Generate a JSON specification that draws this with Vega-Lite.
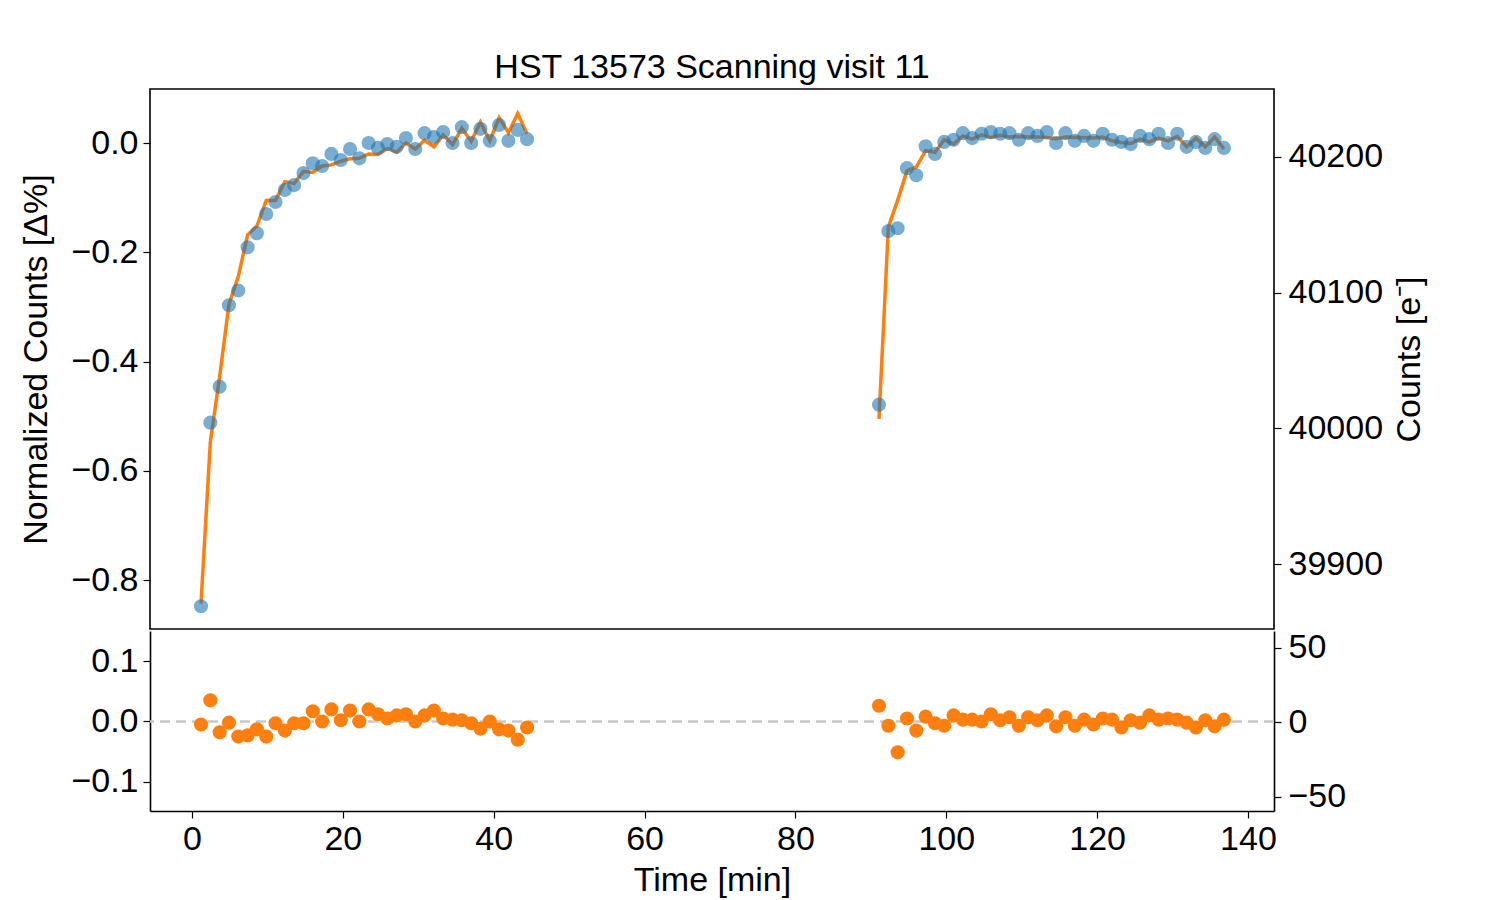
{
  "$schema": "https://vega.github.io/schema/vega-lite/v6.json",
  "background": "white",
  "padding": {"left": 19, "top": 50, "right": 5, "bottom": 5},
  "spacing": 0,
  "config": {
    "font": "Liberation Sans",
    "view": {"stroke": "black", "strokeWidth": 1.6},
    "axis": {
      "grid": false,
      "domain": false,
      "domainColor": "black",
      "domainWidth": 1.6,
      "labelFont": "Liberation Sans",
      "labelFontSize": 34,
      "labelColor": "black",
      "labelPadding": 5,
      "tickColor": "black",
      "tickSize": 7,
      "tickWidth": 1.2,
      "titleFont": "Liberation Sans",
      "titleFontSize": 34,
      "titleFontWeight": "normal",
      "titleColor": "black"
    }
  },
  "datasets": {
    "obs": [
      {"t": 1.19, "orbit": 1, "norm": -0.848, "model": -0.843, "counts": 39868.7, "res": -0.005, "res_counts": -2.0},
      {"t": 2.43, "orbit": 1, "norm": -0.512, "model": -0.547, "counts": 40003.9, "res": 0.035, "res_counts": 14.1},
      {"t": 3.66, "orbit": 1, "norm": -0.446, "model": -0.428, "counts": 40030.5, "res": -0.018, "res_counts": -7.2},
      {"t": 4.90, "orbit": 1, "norm": -0.297, "model": -0.295, "counts": 40090.5, "res": -0.002, "res_counts": -0.8},
      {"t": 6.13, "orbit": 1, "norm": -0.270, "model": -0.245, "counts": 40101.3, "res": -0.025, "res_counts": -10.1},
      {"t": 7.37, "orbit": 1, "norm": -0.191, "model": -0.168, "counts": 40133.1, "res": -0.023, "res_counts": -9.3},
      {"t": 8.60, "orbit": 1, "norm": -0.165, "model": -0.152, "counts": 40143.6, "res": -0.013, "res_counts": -5.2},
      {"t": 9.84, "orbit": 1, "norm": -0.130, "model": -0.105, "counts": 40157.7, "res": -0.025, "res_counts": -10.1},
      {"t": 11.07, "orbit": 1, "norm": -0.108, "model": -0.105, "counts": 40166.5, "res": -0.003, "res_counts": -1.2},
      {"t": 12.31, "orbit": 1, "norm": -0.086, "model": -0.071, "counts": 40175.4, "res": -0.015, "res_counts": -6.0},
      {"t": 13.54, "orbit": 1, "norm": -0.077, "model": -0.074, "counts": 40179.0, "res": -0.003, "res_counts": -1.2},
      {"t": 14.78, "orbit": 1, "norm": -0.055, "model": -0.052, "counts": 40187.9, "res": -0.003, "res_counts": -1.2},
      {"t": 16.01, "orbit": 1, "norm": -0.037, "model": -0.054, "counts": 40195.1, "res": 0.017, "res_counts": 6.8},
      {"t": 17.25, "orbit": 1, "norm": -0.042, "model": -0.042, "counts": 40193.1, "res": 0.000, "res_counts": 0.0},
      {"t": 18.48, "orbit": 1, "norm": -0.020, "model": -0.040, "counts": 40201.9, "res": 0.020, "res_counts": 8.1},
      {"t": 19.72, "orbit": 1, "norm": -0.031, "model": -0.033, "counts": 40197.5, "res": 0.002, "res_counts": 0.8},
      {"t": 20.95, "orbit": 1, "norm": -0.011, "model": -0.029, "counts": 40205.6, "res": 0.018, "res_counts": 7.2},
      {"t": 22.19, "orbit": 1, "norm": -0.028, "model": -0.028, "counts": 40198.7, "res": 0.000, "res_counts": 0.0},
      {"t": 23.42, "orbit": 1, "norm": 0.000, "model": -0.020, "counts": 40210.0, "res": 0.020, "res_counts": 8.1},
      {"t": 24.66, "orbit": 1, "norm": -0.009, "model": -0.021, "counts": 40206.4, "res": 0.012, "res_counts": 4.8},
      {"t": 25.89, "orbit": 1, "norm": -0.002, "model": -0.010, "counts": 40209.2, "res": 0.005, "res_counts": 2.0},
      {"t": 27.13, "orbit": 1, "norm": -0.007, "model": -0.017, "counts": 40207.2, "res": 0.010, "res_counts": 4.0},
      {"t": 28.36, "orbit": 1, "norm": 0.009, "model": 0.000, "counts": 40213.6, "res": 0.012, "res_counts": 4.8},
      {"t": 29.60, "orbit": 1, "norm": -0.011, "model": -0.011, "counts": 40205.6, "res": 0.000, "res_counts": 0.0},
      {"t": 30.83, "orbit": 1, "norm": 0.018, "model": 0.005, "counts": 40217.2, "res": 0.010, "res_counts": 4.0},
      {"t": 32.07, "orbit": 1, "norm": 0.011, "model": -0.007, "counts": 40214.4, "res": 0.018, "res_counts": 7.2},
      {"t": 33.30, "orbit": 1, "norm": 0.020, "model": 0.015, "counts": 40218.1, "res": 0.005, "res_counts": 2.0},
      {"t": 34.54, "orbit": 1, "norm": 0.000, "model": -0.003, "counts": 40210.0, "res": 0.003, "res_counts": 1.2},
      {"t": 35.77, "orbit": 1, "norm": 0.029, "model": 0.027, "counts": 40221.7, "res": 0.002, "res_counts": 0.8},
      {"t": 37.01, "orbit": 1, "norm": 0.000, "model": 0.003, "counts": 40210.0, "res": -0.003, "res_counts": -1.2},
      {"t": 38.24, "orbit": 1, "norm": 0.026, "model": 0.038, "counts": 40220.5, "res": -0.012, "res_counts": -4.8},
      {"t": 39.48, "orbit": 1, "norm": 0.004, "model": 0.004, "counts": 40211.6, "res": 0.000, "res_counts": 0.0},
      {"t": 40.71, "orbit": 1, "norm": 0.033, "model": 0.046, "counts": 40223.3, "res": -0.013, "res_counts": -5.2},
      {"t": 41.95, "orbit": 1, "norm": 0.004, "model": 0.019, "counts": 40211.6, "res": -0.015, "res_counts": -6.0},
      {"t": 43.18, "orbit": 1, "norm": 0.024, "model": 0.054, "counts": 40219.7, "res": -0.030, "res_counts": -12.1},
      {"t": 44.42, "orbit": 1, "norm": 0.007, "model": 0.017, "counts": 40212.8, "res": -0.010, "res_counts": -4.0},
      {"t": 91.08, "orbit": 2, "norm": -0.479, "model": -0.505, "counts": 40017.2, "res": 0.026, "res_counts": 10.5},
      {"t": 92.32, "orbit": 2, "norm": -0.161, "model": -0.154, "counts": 40145.2, "res": -0.007, "res_counts": -2.8},
      {"t": 93.55, "orbit": 2, "norm": -0.156, "model": -0.105, "counts": 40147.2, "res": -0.051, "res_counts": -20.5},
      {"t": 94.79, "orbit": 2, "norm": -0.046, "model": -0.051, "counts": 40191.5, "res": 0.005, "res_counts": 2.0},
      {"t": 96.02, "orbit": 2, "norm": -0.059, "model": -0.044, "counts": 40186.3, "res": -0.015, "res_counts": -6.0},
      {"t": 97.26, "orbit": 2, "norm": -0.006, "model": -0.014, "counts": 40207.6, "res": 0.008, "res_counts": 3.2},
      {"t": 98.50, "orbit": 2, "norm": -0.020, "model": -0.017, "counts": 40202.0, "res": -0.003, "res_counts": -1.2},
      {"t": 99.73, "orbit": 2, "norm": 0.002, "model": 0.006, "counts": 40210.8, "res": -0.007, "res_counts": -2.8},
      {"t": 100.97, "orbit": 2, "norm": 0.006, "model": -0.002, "counts": 40212.4, "res": 0.010, "res_counts": 4.0},
      {"t": 102.20, "orbit": 2, "norm": 0.018, "model": 0.013, "counts": 40217.2, "res": 0.003, "res_counts": 1.2},
      {"t": 103.44, "orbit": 2, "norm": 0.009, "model": 0.007, "counts": 40213.6, "res": 0.003, "res_counts": 1.2},
      {"t": 104.68, "orbit": 2, "norm": 0.017, "model": 0.015, "counts": 40216.8, "res": 0.000, "res_counts": 0.0},
      {"t": 105.91, "orbit": 2, "norm": 0.020, "model": 0.010, "counts": 40218.1, "res": 0.012, "res_counts": 4.8},
      {"t": 107.15, "orbit": 2, "norm": 0.017, "model": 0.014, "counts": 40216.8, "res": 0.002, "res_counts": 0.8},
      {"t": 108.38, "orbit": 2, "norm": 0.018, "model": 0.011, "counts": 40217.2, "res": 0.007, "res_counts": 2.8},
      {"t": 109.62, "orbit": 2, "norm": 0.006, "model": 0.012, "counts": 40212.4, "res": -0.007, "res_counts": -2.8},
      {"t": 110.86, "orbit": 2, "norm": 0.018, "model": 0.011, "counts": 40217.2, "res": 0.007, "res_counts": 2.8},
      {"t": 112.09, "orbit": 2, "norm": 0.013, "model": 0.011, "counts": 40215.2, "res": 0.002, "res_counts": 0.8},
      {"t": 113.33, "orbit": 2, "norm": 0.020, "model": 0.010, "counts": 40218.1, "res": 0.010, "res_counts": 4.0},
      {"t": 114.56, "orbit": 2, "norm": 0.000, "model": 0.008, "counts": 40210.0, "res": -0.008, "res_counts": -3.2},
      {"t": 115.80, "orbit": 2, "norm": 0.018, "model": 0.011, "counts": 40217.2, "res": 0.007, "res_counts": 2.8},
      {"t": 117.04, "orbit": 2, "norm": 0.004, "model": 0.010, "counts": 40211.6, "res": -0.007, "res_counts": -2.8},
      {"t": 118.27, "orbit": 2, "norm": 0.013, "model": 0.010, "counts": 40215.2, "res": 0.003, "res_counts": 1.2},
      {"t": 119.51, "orbit": 2, "norm": 0.004, "model": 0.009, "counts": 40211.6, "res": -0.005, "res_counts": -2.0},
      {"t": 120.74, "orbit": 2, "norm": 0.017, "model": 0.011, "counts": 40216.8, "res": 0.005, "res_counts": 2.0},
      {"t": 121.98, "orbit": 2, "norm": 0.006, "model": 0.004, "counts": 40212.4, "res": 0.003, "res_counts": 1.2},
      {"t": 123.22, "orbit": 2, "norm": 0.002, "model": 0.001, "counts": 40210.8, "res": -0.010, "res_counts": -4.0},
      {"t": 124.45, "orbit": 2, "norm": -0.002, "model": -0.001, "counts": 40209.2, "res": 0.002, "res_counts": 0.8},
      {"t": 125.69, "orbit": 2, "norm": 0.013, "model": 0.007, "counts": 40215.2, "res": -0.002, "res_counts": -0.8},
      {"t": 126.92, "orbit": 2, "norm": 0.007, "model": 0.002, "counts": 40212.8, "res": 0.010, "res_counts": 4.0},
      {"t": 128.16, "orbit": 2, "norm": 0.017, "model": 0.009, "counts": 40216.8, "res": 0.003, "res_counts": 1.2},
      {"t": 129.40, "orbit": 2, "norm": 0.000, "model": 0.004, "counts": 40210.0, "res": 0.005, "res_counts": 2.0},
      {"t": 130.63, "orbit": 2, "norm": 0.017, "model": 0.012, "counts": 40216.8, "res": 0.003, "res_counts": 1.2},
      {"t": 131.87, "orbit": 2, "norm": -0.007, "model": -0.007, "counts": 40207.2, "res": -0.002, "res_counts": -0.8},
      {"t": 133.10, "orbit": 2, "norm": 0.002, "model": 0.009, "counts": 40210.8, "res": -0.010, "res_counts": -4.0},
      {"t": 134.34, "orbit": 2, "norm": -0.009, "model": -0.007, "counts": 40206.4, "res": 0.002, "res_counts": 0.8},
      {"t": 135.58, "orbit": 2, "norm": 0.007, "model": 0.011, "counts": 40212.8, "res": -0.008, "res_counts": -3.2},
      {"t": 136.81, "orbit": 2, "norm": -0.009, "model": -0.011, "counts": 40206.4, "res": 0.003, "res_counts": 1.2}
    ]
  },
  "data": {"name": "obs"},
  "vconcat": [
    {
      "width": 1124,
      "height": 540,
      "title": {
        "text": "HST 13573 Scanning visit 11",
        "frame": "group",
        "anchor": "middle",
        "font": "Liberation Sans",
        "fontSize": 34,
        "fontWeight": "normal",
        "color": "black",
        "offset": 4
      },
      "layer": [
        {
          "layer": [
            {
              "mark": {"type": "line", "color": "#ff7f0e", "strokeWidth": 3.5},
              "encoding": {
                "x": {"field": "t", "type": "quantitative", "scale": {"domain": [-5.57, 143.45], "nice": false, "zero": false}, "axis": null},
                "y": {"field": "model", "type": "quantitative", "scale": {"domain": [-0.8897, 0.0989], "nice": false, "zero": false},
                      "axis": {"title": "Normalized Counts [Δ%]", "values": [-0.8, -0.6, -0.4, -0.2, 0], "format": ".1f", "titlePadding": 17}},
                "detail": {"field": "orbit", "type": "nominal"}
              }
            },
            {
              "mark": {"type": "point", "filled": true, "color": "#1f77b4", "opacity": 0.6, "size": 200},
              "encoding": {
                "x": {"field": "t", "type": "quantitative"},
                "y": {"field": "norm", "type": "quantitative",
                      "axis": {"title": "Normalized Counts [Δ%]", "values": [-0.8, -0.6, -0.4, -0.2, 0], "format": ".1f", "titlePadding": 17}}
              }
            }
          ]
        },
        {
          "mark": {"type": "point", "opacity": 0},
          "encoding": {
            "x": {"field": "t", "type": "quantitative"},
            "y": {"field": "counts", "type": "quantitative", "scale": {"domain": [39852.1, 40250.1], "nice": false, "zero": false},
                  "axis": {"orient": "right", "title": "Counts [e⁻]", "titleAngle": 270, "titleBaseline": "top", "values": [39900, 40000, 40100, 40200], "format": "d", "labelPadding": 7, "titlePadding": 10}}
          }
        }
      ],
      "resolve": {"scale": {"y": "independent"}}
    },
    {
      "width": 1124,
      "height": 180,
      "view": {"stroke": null},
      "layer": [
        {
          "layer": [
            {
              "data": {"values": [{"level": 0}]},
              "mark": {"type": "rule", "color": "#c8c8c8", "strokeWidth": 2.5, "strokeDash": [10, 6]},
              "encoding": {
                "y": {"field": "level", "type": "quantitative", "scale": {"domain": [-0.148, 0.1496], "nice": false, "zero": false},
                      "axis": {"title": null, "values": [-0.1, 0, 0.1], "format": ".1f", "domain": true}}
              }
            },
            {
              "mark": {"type": "point", "filled": true, "color": "#ff7f0e", "opacity": 1, "size": 200},
              "encoding": {
                "x": {"field": "t", "type": "quantitative", "scale": {"domain": [-5.57, 143.45], "nice": false, "zero": false},
                      "axis": {"title": "Time [min]", "values": [0, 20, 40, 60, 80, 100, 120, 140], "format": "d", "labelPadding": 4, "titlePadding": 7, "domain": true}},
                "y": {"field": "res", "type": "quantitative",
                      "axis": {"title": null, "values": [-0.1, 0, 0.1], "format": ".1f", "domain": true}}
              }
            }
          ]
        },
        {
          "mark": {"type": "point", "opacity": 0},
          "encoding": {
            "x": {"field": "t", "type": "quantitative"},
            "y": {"field": "res_counts", "type": "quantitative", "scale": {"domain": [-59.4, 61.4], "nice": false, "zero": false},
                  "axis": {"orient": "right", "title": null, "values": [-50, 0, 50], "format": "d", "labelPadding": 7, "domain": true}}
          }
        }
      ],
      "resolve": {"scale": {"y": "independent"}}
    }
  ]
}
